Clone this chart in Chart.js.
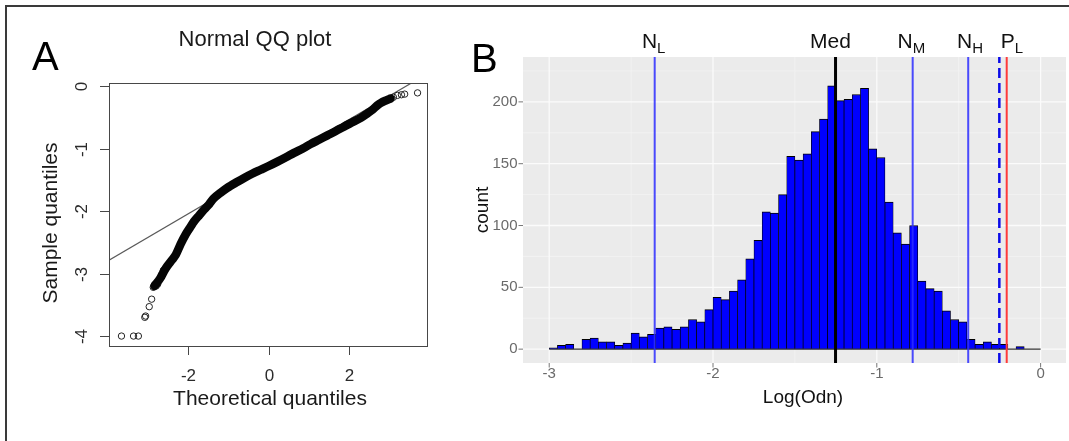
<!DOCTYPE html>
<html>
<head>
<meta charset="utf-8">
<script src="https://cdn.jsdelivr.net/npm/chart.js@4/dist/chart.umd.min.js"></script>
<style>
  html, body { margin: 0; padding: 0; background: #fff; }
  body { width: 1069px; height: 441px; position: relative; overflow: hidden; }
  #frame {
    position: absolute; left: 5px; top: 5px; right: -10px; bottom: -10px;
    border-top: 2px solid #3a3a3a; border-left: 2px solid #3a3a3a;
  }
  canvas { position: absolute; top: 0; }
  #qq { left: 0; }
  #hist { left: 460px; }
</style>
</head>
<body>
<div id="frame"></div>
<canvas id="qq" width="460" height="441"></canvas>
<canvas id="hist" width="609" height="441"></canvas>
<script>
const FONT = '"Liberation Sans", Arial, Helvetica, sans-serif';

// ---- Panel A: normal QQ plot ----
// dense middle run of the sorted sample (theoretical vs sample quantiles)
const bandTheo = [-2.84, -2.70, -2.60, -2.52, -2.40, -2.31, -2.19, -2.06, -1.95, -1.86,
  -1.73, -1.61, -1.48, -1.37, -1.20, -1.03, -0.80, -0.61, -0.40, -0.20, 0.00, 0.22,
  0.43, 0.63, 0.85, 1.04, 1.25, 1.46, 1.67, 1.87, 2.08, 2.29, 2.45, 2.58, 2.70, 2.79,
  2.92, 3.03];
const bandSample = [-3.20, -3.08, -2.96, -2.88, -2.78, -2.70, -2.53, -2.37, -2.26, -2.17,
  -2.07, -1.98, -1.89, -1.80, -1.71, -1.63, -1.54, -1.47, -1.40, -1.34, -1.28, -1.21,
  -1.14, -1.07, -1.00, -0.93, -0.86, -0.79, -0.72, -0.65, -0.58, -0.51, -0.44, -0.38,
  -0.31, -0.27, -0.23, -0.20];
// sparse points in both tails
const tailTheo = [-3.66, -3.36, -3.24, -3.08, -3.06, -2.97, -2.91, -2.87, -2.84, -2.80,
  -2.76, -2.72, -2.66, -2.62, 3.10, 3.20, 3.30, 3.38, 3.70];
const tailSample = [-4.00, -4.00, -4.00, -3.70, -3.68, -3.53, -3.41, -3.22, -3.18, -3.20,
  -3.17, -3.10, -3.02, -2.95, -0.18, -0.15, -0.14, -0.13, -0.11];
// reference line through the quartiles
const qqLineIntercept = -1.29;
const qqLineSlope = 0.377;
const qqXRange = [-3.97, 3.96];
const qqYRange = [-4.175, 0.048];
const qqXTicks = [-2, 0, 2];
const qqYTicks = [0, -1, -2, -3, -4];

// ---- Panel B: histogram of Log(Odn), bins of 0.05 from -3 to 0 ----
const binLow = -3;
const binWidth = 0.05;
const binCounts = [1, 3, 4, 0, 8, 9, 6, 6, 3, 5,
  13, 10, 12, 17, 18, 16, 18, 24, 22, 32,
  42, 40, 47, 56, 73, 88, 111, 110, 125, 156,
  153, 158, 176, 186, 213, 201, 202, 206, 211, 162,
  155, 119, 94, 85, 100, 55, 49, 47, 31, 24,
  22, 8, 4, 6, 4, 4, 0, 2, 0, 0];
const histXRange = [-3.16, 0.155];
const histYRange = [-11.2, 236.3];
const histXTicks = [-3, -2, -1, 0];
const histXMinor = [-2.5, -1.5, -0.5];
const histYTicks = [0, 50, 100, 150, 200];
const histYMinor = [25, 75, 125, 175, 225];
// marker lines and their labels
const markerX = [-2.356, -1.252, -0.781, -0.442, -0.252, -0.207];
const markerColor = ['rgba(45,45,255,0.85)', '#000000', 'rgba(45,45,255,0.85)', 'rgba(45,45,255,0.85)', '#0a0ae8', '#ff3a3a'];
const markerWidth = [2, 3, 2, 2, 2.5, 2];
const markerDash = [[], [], [], [], [10, 5], []];
const markerLabel = [['N', 'L'], ['Med', ''], ['N', 'M'], ['N', 'H'], ['P', 'L']];
const markerLabelX = [-2.362, -1.283, -0.789, -0.431, -0.175];

const binMids = binCounts.map((_, i) => binLow + binWidth * (i + 0.5));

// ---------- QQ chart ----------
const qqAxes = {
  id: 'qqAxes',
  afterDatasetsDraw(chart) {
    const { ctx, chartArea: a, scales: { x, y } } = chart;
    ctx.save();
    ctx.strokeStyle = '#474747';
    ctx.lineWidth = 1;
    ctx.strokeRect(a.left + 0.5, a.top + 0.5, a.right - a.left - 1, a.bottom - a.top - 1);

    ctx.fillStyle = '#2b2b2b';
    ctx.font = '17px ' + FONT;
    ctx.textAlign = 'center';
    ctx.textBaseline = 'middle';
    qqXTicks.forEach(v => {
      const px = Math.round(x.getPixelForValue(v)) + 0.5;
      ctx.beginPath(); ctx.moveTo(px, a.bottom); ctx.lineTo(px, a.bottom + 8); ctx.stroke();
      ctx.fillText(String(v), px, a.bottom + 29);
    });
    qqYTicks.forEach(v => {
      const py = Math.round(y.getPixelForValue(v)) + 0.5;
      ctx.beginPath(); ctx.moveTo(a.left - 9, py); ctx.lineTo(a.left, py); ctx.stroke();
      ctx.save();
      ctx.translate(a.left - 27, py);
      ctx.rotate(-Math.PI / 2);
      ctx.fillText(String(v), 0, 0);
      ctx.restore();
    });

    ctx.fillStyle = '#1a1a1a';
    ctx.font = '21px ' + FONT;
    ctx.fillText('Theoretical quantiles', 270, 399);
    ctx.save();
    ctx.translate(51, 223);
    ctx.rotate(-Math.PI / 2);
    ctx.fillText('Sample quantiles', 0, 0);
    ctx.restore();

    ctx.font = '22px ' + FONT;
    ctx.fillText('Normal QQ plot', 255, 40);

    ctx.fillStyle = '#000';
    ctx.textAlign = 'left';
    ctx.textBaseline = 'alphabetic';
    ctx.font = '40px ' + FONT;
    ctx.fillText('A', 32, 70);
    ctx.restore();
  }
};

new Chart(document.getElementById('qq'), {
  type: 'scatter',
  data: {
    datasets: [
      {
        data: bandTheo.map((t, i) => ({ x: t, y: bandSample[i] })),
        showLine: true,
        borderColor: '#050505',
        borderWidth: 8.5,
        borderCapStyle: 'round',
        borderJoinStyle: 'round',
        tension: 0.3,
        pointRadius: 0,
        order: 1
      },
      {
        data: tailTheo.map((t, i) => ({ x: t, y: tailSample[i] })),
        showLine: false,
        pointStyle: 'circle',
        pointRadius: 3.2,
        pointBorderWidth: 1,
        pointBorderColor: '#222',
        pointBackgroundColor: 'rgba(0,0,0,0)',
        order: 2
      },
      {
        data: qqXRange.map(t => ({ x: t, y: qqLineIntercept + qqLineSlope * t })),
        showLine: true,
        borderColor: '#5a5a5a',
        borderWidth: 1.2,
        pointRadius: 0,
        clip: 0,
        order: 3
      }
    ]
  },
  options: {
    responsive: false,
    animation: false,
    devicePixelRatio: 1,
    layout: { padding: { left: 109, top: 83, right: 32, bottom: 94 } },
    plugins: { legend: { display: false }, tooltip: { enabled: false } },
    scales: {
      x: { type: 'linear', min: qqXRange[0], max: qqXRange[1], display: false },
      y: { type: 'linear', min: qqYRange[0], max: qqYRange[1], display: false }
    }
  },
  plugins: [qqAxes]
});

// ---------- histogram chart ----------
const histPanel = {
  id: 'histPanel',
  beforeDatasetsDraw(chart) {
    const { ctx, chartArea: a, scales: { x, y } } = chart;
    ctx.save();
    ctx.fillStyle = '#ebebeb';
    ctx.fillRect(a.left, a.top, a.right - a.left, a.bottom - a.top);
    const vline = (v, w, c) => {
      const px = x.getPixelForValue(v);
      ctx.strokeStyle = c; ctx.lineWidth = w;
      ctx.beginPath(); ctx.moveTo(px, a.top); ctx.lineTo(px, a.bottom); ctx.stroke();
    };
    const hline = (v, w, c) => {
      const py = y.getPixelForValue(v);
      ctx.strokeStyle = c; ctx.lineWidth = w;
      ctx.beginPath(); ctx.moveTo(a.left, py); ctx.lineTo(a.right, py); ctx.stroke();
    };
    histXMinor.forEach(v => vline(v, 0.7, '#f5f5f5'));
    histYMinor.forEach(v => hline(v, 0.7, '#f5f5f5'));
    histXTicks.forEach(v => vline(v, 1.3, '#fbfbfb'));
    histYTicks.forEach(v => hline(v, 1.3, '#fbfbfb'));
    ctx.restore();
  },
  afterDraw(chart) {
    const { ctx, chartArea: a, scales: { x, y } } = chart;
    ctx.save();
    ctx.strokeStyle = '#777';
    ctx.lineWidth = 1;
    ctx.fillStyle = '#6a6a6a';
    ctx.font = '15px ' + FONT;
    ctx.textAlign = 'right';
    ctx.textBaseline = 'middle';
    histYTicks.forEach(v => {
      const py = y.getPixelForValue(v);
      ctx.beginPath(); ctx.moveTo(a.left - 4.5, py); ctx.lineTo(a.left, py); ctx.stroke();
      ctx.fillText(String(v), a.left - 5.5, py);
    });
    ctx.textAlign = 'center';
    histXTicks.forEach(v => {
      const px = x.getPixelForValue(v);
      ctx.beginPath(); ctx.moveTo(px, a.bottom); ctx.lineTo(px, a.bottom + 4.5); ctx.stroke();
      ctx.fillText(String(v), px, a.bottom + 11);
    });

    ctx.fillStyle = '#111';
    ctx.font = '19px ' + FONT;
    ctx.fillText('Log(Odn)', 343, 398);
    ctx.save();
    ctx.translate(23, 210);
    ctx.rotate(-Math.PI / 2);
    ctx.fillText('count', 0, 0);
    ctx.restore();

    // marker names with subscripts
    ctx.textAlign = 'left';
    ctx.textBaseline = 'alphabetic';
    markerLabel.forEach(([main, sub], i) => {
      ctx.font = '21px ' + FONT;
      const wMain = ctx.measureText(main).width;
      ctx.font = '15px ' + FONT;
      const wSub = sub ? ctx.measureText(sub).width : 0;
      const left = x.getPixelForValue(markerLabelX[i]) - (wMain + wSub) / 2;
      ctx.font = '21px ' + FONT;
      ctx.fillText(main, left, 48);
      if (sub) {
        ctx.font = '15px ' + FONT;
        ctx.fillText(sub, left + wMain, 53);
      }
    });

    ctx.fillStyle = '#000';
    ctx.font = '40px ' + FONT;
    ctx.fillText('B', 11, 72);
    ctx.restore();
  }
};

const markerSets = markerX.map((v, i) => ({
  type: 'line',
  data: histYRange.map(c => ({ x: v, y: c })),
  borderColor: markerColor[i],
  borderWidth: markerWidth[i],
  borderDash: markerDash[i],
  pointRadius: 0,
  clip: 0,
  order: 1
}));

new Chart(document.getElementById('hist'), {
  type: 'bar',
  data: {
    datasets: [
      {
        type: 'bar',
        data: binMids.map((m, i) => ({ x: m, y: binCounts[i] })),
        backgroundColor: '#0000ff',
        borderColor: '#000',
        borderWidth: { top: 1, left: 0.7, right: 0.7, bottom: 0 },
        borderSkipped: false,
        barPercentage: 1,
        categoryPercentage: 1,
        order: 5
      },
      {
        type: 'line',
        data: [binLow, binLow + binWidth * binCounts.length].map(e => ({ x: e, y: 0 })),
        borderColor: '#333',
        borderWidth: 1.3,
        pointRadius: 0,
        order: 4
      },
      ...markerSets
    ]
  },
  options: {
    responsive: false,
    animation: false,
    devicePixelRatio: 1,
    layout: { padding: { left: 63, top: 57, right: 3, bottom: 78 } },
    plugins: { legend: { display: false }, tooltip: { enabled: false } },
    scales: {
      x: { type: 'linear', min: histXRange[0], max: histXRange[1], offset: false, display: false },
      y: { type: 'linear', min: histYRange[0], max: histYRange[1], display: false }
    }
  },
  plugins: [histPanel]
});
</script>
</body>
</html>
